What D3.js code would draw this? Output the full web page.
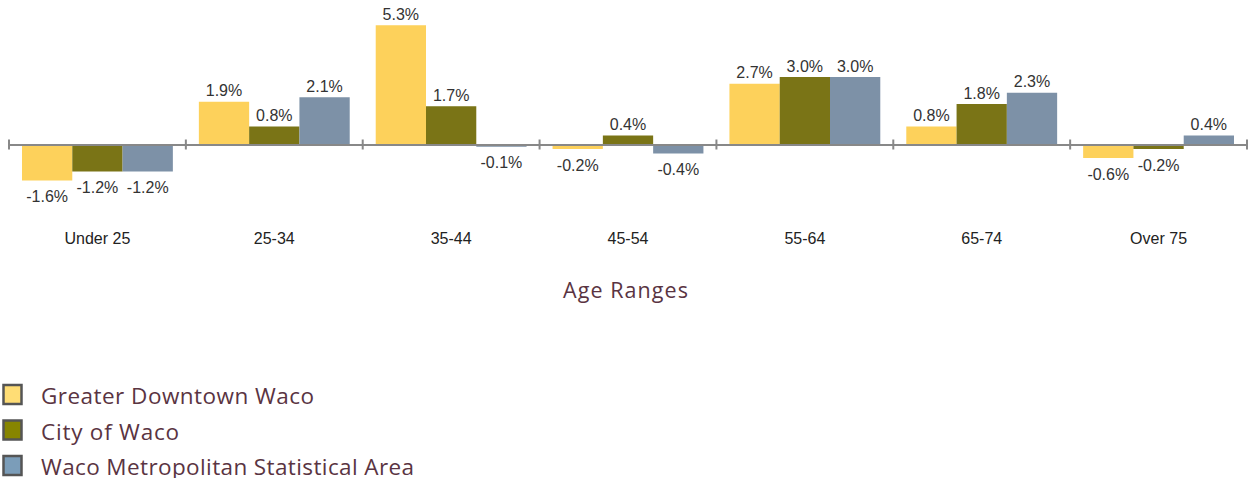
<!DOCTYPE html>
<html><head><meta charset="utf-8">
<script src="https://cdn.jsdelivr.net/npm/d3@7"></script>
<style>body{margin:0;background:#fff;} svg{display:block;}</style>
</head><body>
<svg id="chart" width="1250" height="478"></svg>
<script>
const categories = ["Under 25","25-34","35-44","45-54","55-64","65-74","Over 75"];
const seriesNames = ["Greater Downtown Waco","City of Waco","Waco Metropolitan Statistical Area"];
const downtown = [-1.6, 1.9, 5.3, -0.2, 2.7, 0.8, -0.6];
const city = [-1.2, 0.8, 1.7, 0.4, 3.0, 1.8, -0.2];
const msa = [-1.2, 2.1, -0.1, -0.4, 3.0, 2.3, 0.4];
const axisTitle = "Age Ranges";

const barColors = ["#FDD15B","#7A7416","#7D91A7"];
const legendColors = ["#FFDD75","#878500","#7B9DB9"];
const legendWidths = [273, 138, 373];
const seriesValues = [downtown, city, msa];

const svg = d3.select("#chart");
const x0 = d3.scaleBand().domain(categories).range([9, 1247]).padding(0);
const x1 = d3.scaleBand().domain(seriesNames.map((d,i)=>i)).range([13, x0.bandwidth()-13]).padding(0);
const y = d3.scaleLinear().domain([-2, 6]).range([189.5, 9.5]);

const data = [];
categories.forEach((c, ci) => seriesValues.forEach((arr, si) => data.push({c, si, v: arr[ci]})));

// bars
svg.append("g").selectAll("rect").data(data).join("rect")
  .attr("x", d => x0(d.c) + x1(d.si))
  .attr("width", x1.bandwidth())
  .attr("y", d => Math.min(y(d.v), y(0)))
  .attr("height", d => Math.abs(y(d.v) - y(0)))
  .attr("fill", d => barColors[d.si]);

// axis
const axisG = svg.append("g").attr("transform", `translate(0,${y(0)})`);
axisG.call(d3.axisBottom(x0).tickSize(0).tickFormat(""));
axisG.select(".domain").attr("stroke", "#888").attr("stroke-width", 2);
const bounds = categories.map(c => x0(c)).concat([x0.range()[1]]);
axisG.selectAll("line.bound").data(bounds).join("line").attr("class","bound")
  .attr("x1", d => d).attr("x2", d => d).attr("y1", -5).attr("y2", 5)
  .attr("stroke", "#888").attr("stroke-width", 2);

// category labels
svg.append("g").selectAll("text").data(categories).join("text")
  .attr("x", d => x0(d) + x0.bandwidth()/2)
  .attr("y", 244)
  .attr("text-anchor", "middle")
  .attr("font-family", "Liberation Sans, Arial, sans-serif")
  .attr("font-size", 16)
  .attr("fill", "#222")
  .text(d => d);

// value labels
svg.append("g").selectAll("text").data(data).join("text")
  .attr("x", d => x0(d.c) + x1(d.si) + x1.bandwidth()/2)
  .attr("y", d => d.v >= 0 ? y(d.v) - 5.5 : y(d.v) + 21.5)
  .attr("text-anchor", "middle")
  .attr("font-family", "Liberation Sans, Arial, sans-serif")
  .attr("font-size", 16)
  .attr("fill", "#333")
  .text(d => d.v.toFixed(1) + "%");

// axis title
svg.append("text")
  .attr("x", 563).attr("y", 297.5)
  .attr("font-family", "Open Sans, sans-serif")
  .attr("font-size", 21.5)
  .attr("textLength", 125).attr("lengthAdjust", "spacing")
  .attr("fill", "#5A3442")
  .text(axisTitle);

// legend
const lg = svg.append("g").selectAll("g").data(seriesNames).join("g")
  .attr("transform", (d,i) => `translate(0,${394.5 + i*35.5})`);
lg.append("rect").attr("x", 3.5).attr("y", -9.5).attr("width", 18).attr("height", 19)
  .attr("fill", (d,i) => legendColors[i]).attr("stroke", "#555").attr("stroke-width", 2.5);
lg.append("text").attr("x", 41).attr("y", 9.5)
  .attr("font-family", "Open Sans, sans-serif")
  .attr("font-size", 22.5)
  .attr("textLength", (d,i) => legendWidths[i]).attr("lengthAdjust", "spacing")
  .attr("fill", "#5A3442")
  .text(d => d);
</script>
</body></html>
